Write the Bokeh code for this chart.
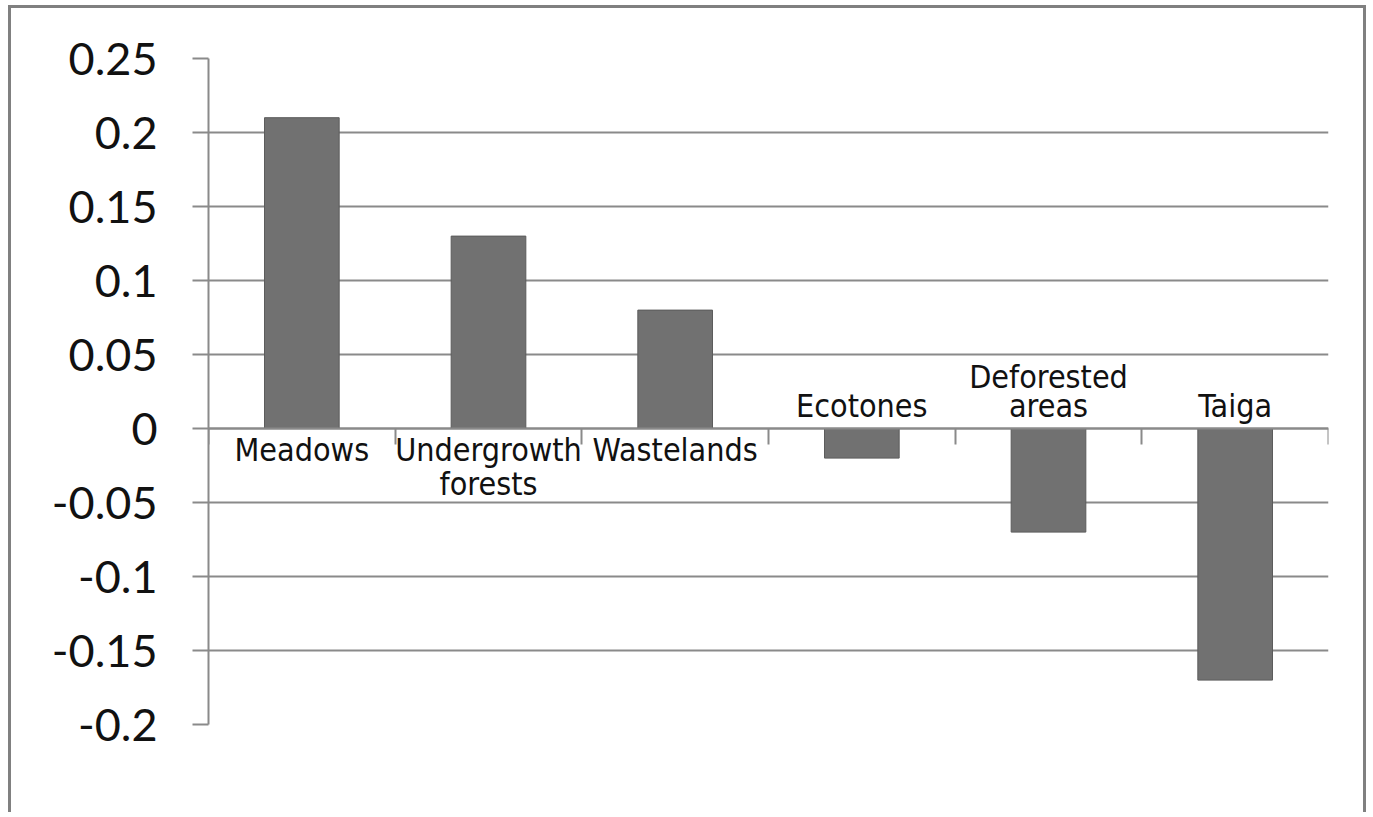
from bokeh.plotting import figure
from bokeh.models import FixedTicker, Range1d
from bokeh.embed import file_html
from bokeh.resources import INLINE
from bokeh.core.properties import value

# ---- data ----
categories = ["Meadows", "Undergrowth\nforests", "Wastelands", "Ecotones", "Deforested\nareas", "Taiga"]
values = [0.21, 0.13, 0.08, -0.02, -0.07, -0.17]
y_ticks = [-0.2, -0.15, -0.1, -0.05, 0, 0.05, 0.1, 0.15, 0.2, 0.25]
y_tick_labels = ["-0.2", "-0.15", "-0.1", "-0.05", "0", "0.05", "0.1", "0.15", "0.2", "0.25"]

n = len(categories)
xs = list(range(n))
GRID = "#8a8a8a"

p = figure(frame_width=1120, frame_height=666,
           x_range=Range1d(-0.5, n - 0.5), y_range=Range1d(y_ticks[0], y_ticks[-1]),
           output_backend="svg", toolbar_location=None,
           min_border_left=197, min_border_right=35, min_border_top=50, min_border_bottom=88)
p.outline_line_color = None
p.background_fill_color = "white"
p.border_fill_color = "white"
p.styles = {"border-top": "3px solid #808080", "border-left": "3px solid #808080",
            "border-right": "3px solid #808080", "margin-left": "8px", "margin-top": "5px"}

# grid
p.xgrid.visible = False
p.ygrid.ticker = FixedTicker(ticks=y_ticks)
p.ygrid.grid_line_color = GRID
p.ygrid.grid_line_width = 2

# y axis
ya = p.yaxis[0]
ya.ticker = FixedTicker(ticks=y_ticks)
ya.major_label_overrides = dict(zip(y_ticks, y_tick_labels))
ya.axis_line_color = GRID
ya.axis_line_width = 2
ya.major_tick_line_color = GRID
ya.major_tick_line_width = 2
ya.major_tick_in = 0
ya.major_tick_out = 16
ya.minor_tick_line_color = None
ya.major_label_standoff = 35
ya.major_label_text_font = "Lato"
ya.major_label_text_font_size = "45px"
ya.major_label_text_color = "#111111"

# x axis at zero with ticks between categories
xa = p.xaxis[0]
xa.fixed_location = 0
xa.ticker = FixedTicker(ticks=[i - 0.5 for i in range(n + 1)])
xa.major_label_text_alpha = 0
xa.axis_line_color = GRID
xa.axis_line_width = 2
xa.major_tick_line_color = GRID
xa.major_tick_line_width = 2
xa.major_tick_in = 0
xa.major_tick_out = 16
xa.minor_tick_line_color = None

# bars
p.vbar(x=xs, top=values, bottom=0, width=0.4, fill_color="#717171", line_color="#5c5c5c", line_width=1)

# category labels: below axis for positive bars, above for negative
below = [i for i, v in enumerate(values) if v >= 0]
above = [i for i, v in enumerate(values) if v < 0]
font = value("'Liberation Sans Narrow', 'DejaVu Sans Condensed', 'Roboto Condensed', Roboto")
p.text(x=[xs[i] for i in below], y=[0] * len(below), text=[categories[i] for i in below],
       text_align="center", text_baseline="top", y_offset=2,
       text_font=font, text_font_size="32px", text_line_height=0.9, text_color="#111111")
p.text(x=[xs[i] for i in above], y=[0] * len(above), text=[categories[i] for i in above],
       text_align="center", text_baseline="bottom", y_offset=-4,
       text_font=font, text_font_size="32px", text_line_height=0.75, text_color="#111111")

open("out.html", "w").write(file_html(p, INLINE))
